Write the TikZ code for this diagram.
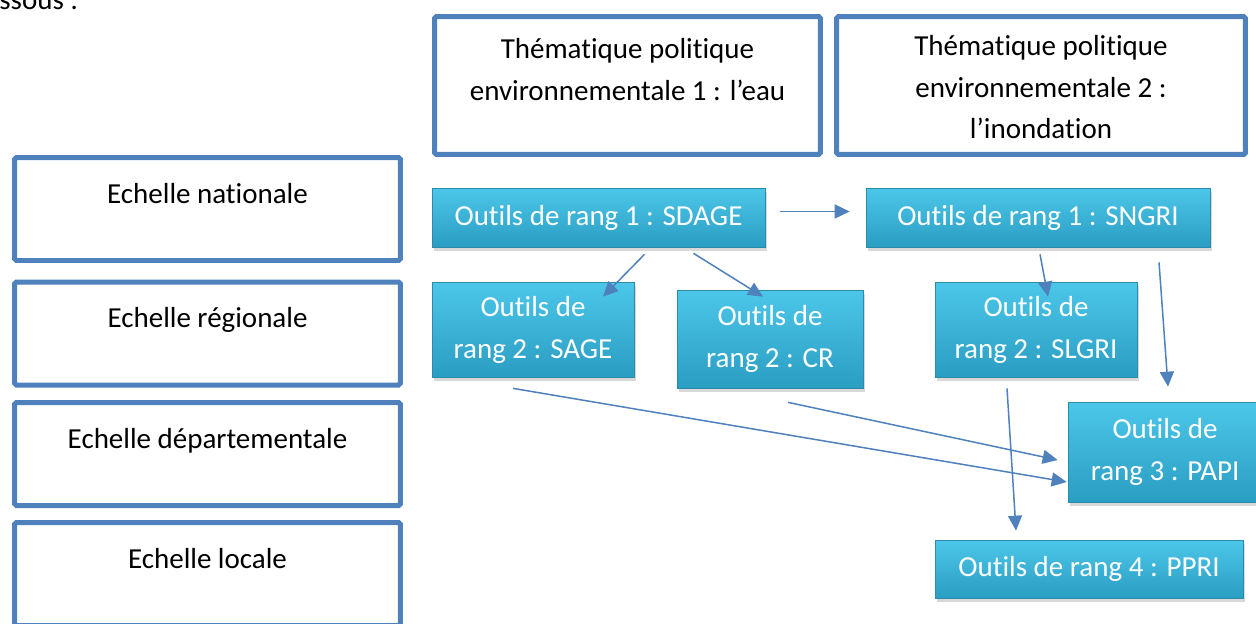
\documentclass[tikz,border=0pt]{standalone}
\usepackage{fontspec}
\setmainfont{Carlito}[Ligatures=NoCommon]
\usepackage{tikz}
\usetikzlibrary{arrows.meta, positioning, calc, shadows}

\definecolor{boxblue}{HTML}{4F81BD}
\definecolor{cyantop}{HTML}{4CC7E9}
\definecolor{cyanbot}{HTML}{2A9DC2}
\definecolor{cyanline}{HTML}{2A8CAA}

\tikzset{
	scalebox/.style={draw=boxblue, line width=0.1cm, rounded corners=1pt, fill=white,
		inner ysep=0pt, minimum width=7.72cm, text height=0.91cm, text depth=1.15cm},
	themebox/.style={draw=boxblue, line width=0.1cm, rounded corners=1pt, fill=white,
		inner ysep=0pt, align=center},
	tool/.style={draw=cyanline, top color=cyantop, bottom color=cyanbot, text=white,
		align=center, inner sep=0pt,
		drop shadow={opacity=0.3, shadow xshift=0.04cm, shadow yshift=-0.07cm}},
	link/.style={->, draw=boxblue, line width=0.03cm}
}

\begin{document}
\begin{tikzpicture}[x=0.02cm, y=-0.02cm, >={Triangle[length=0.3cm, width=0.28cm]},
	font=\fontsize{16.5}{23.9}\selectfont]
	
	\useasboundingbox (0,0) rectangle (1256,623);
	\fill[white] (0,0) rectangle (1256,623);
	\clip (0,0) rectangle (1256,623);
	
	\node[anchor=base west, inner sep=0pt] (intro) at (-1,9) {ssous :};
	
	% Scales
	\node[scalebox] (E1) at (207.5,209) {Echelle nationale};
	\node[scalebox] (E2) at (207.5,333.5) {Echelle régionale};
	\node[scalebox] (E3) at (207.5,454) {Echelle départementale};
	\node[scalebox] (E4) at (207.5,574) {Echelle locale};
	
	% Themes
	\node[themebox, minimum width=7.72cm, text height=1.67cm, text depth=1.09cm] (T1) at (627.5,85.5)
		{Thématique politique\\environnementale 1 : l’eau};
	\node[themebox, minimum width=8.18cm, text height=2.45cm, text depth=0.31cm] (T2) at (1041,85.5)
		{Thématique politique\\environnementale 2 :\\l’inondation};
	
	% Tools
	\node[tool, minimum width=6.66cm, minimum height=1.18cm] (SDAGE) at (598.5,217.5) {Outils de rang 1 : SDAGE};
	\node[tool, minimum width=6.88cm, minimum height=1.18cm] (SNGRI) at (1038,217.5) {Outils de rang 1 : SNGRI};
	\node[tool, minimum width=4.04cm, minimum height=1.9cm] (SAGE) at (533,329.5) {Outils de\\rang 2 : SAGE};
	\node[tool, minimum width=3.72cm, minimum height=1.96cm] (CR) at (770,339) {Outils de\\rang 2 : CR};
	\node[tool, minimum width=4.04cm, minimum height=1.9cm] (SLGRI) at (1036,329.5) {Outils de\\rang 2 : SLGRI};
	\node[tool, minimum width=3.88cm, minimum height=2cm] (PAPI) at (1165,452) {Outils de\\rang 3 : PAPI};
	\node[tool, minimum width=6.16cm, minimum height=1.16cm] (PPRI) at (1089,569) {Outils de rang 4 : PPRI};
	
	% Links
	\draw[link] ($(SDAGE.east)+(15,-6)$) -- ($(SNGRI.west)+(-16,-6)$);
	\draw[link] ($(SDAGE.south)+(46,7)$) -- ($(SAGE.north)+(70,15)$);
	\draw[link] ($(SDAGE.south)+(95,6)$) -- ($(CR.north)+(-7,7)$);
	\draw[link] ($(SNGRI.south)+(2,7)$) -- ($(SLGRI.north)+(12,15)$);
	\draw[link] ($(SNGRI.south)+(121,15)$) -- ($(PAPI.north)+(3,-15)$);
	\draw[link] ($(SLGRI.south)+(-29,11)$) -- ($(PPRI.north)+(-73,-9)$);
	\draw[link] ($(SAGE.south)+(-20,11)$) -- ($(PAPI.west)+(-1,30)$);
	\draw[link] ($(CR.south)+(18,14)$) -- ($(PAPI.west)+(-10,8)$);
	
\end{tikzpicture}
\end{document}
